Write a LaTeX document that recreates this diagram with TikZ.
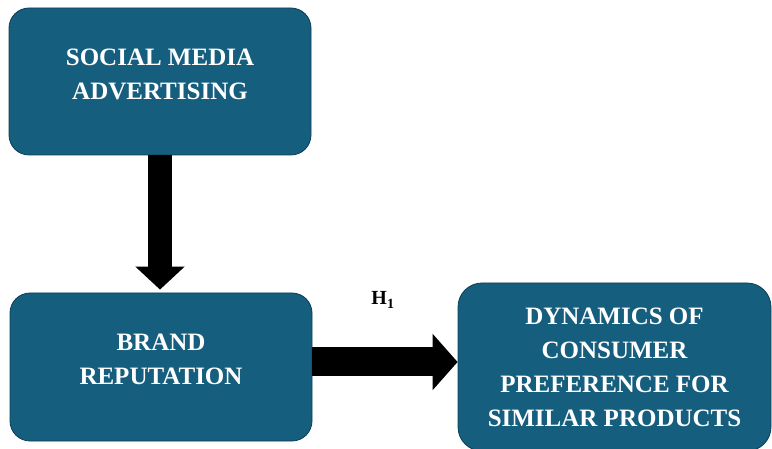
\documentclass[tikz,border=0pt]{standalone}
\usepackage{fontspec}
\setmainfont{Liberation Serif}
\usetikzlibrary{arrows.meta}
\definecolor{boxblue}{RGB}{22,94,126}
\definecolor{boxedge}{RGB}{12,62,86}
\tikzset{factor box/.style={
    draw=boxedge, fill=boxblue, line width=0.8pt,
    rounded corners=20pt,
    text=white, align=center, inner sep=0pt,
    font=\bfseries\fontsize{25}{34}\selectfont
  },
  down arrow/.style={line width=24pt, -{Triangle[width=48pt,length=23pt]}},
  right arrow/.style={line width=29pt, -{Triangle[width=55pt,length=25pt]}}
}

\begin{document}
\begin{tikzpicture}[x=1pt,y=-1pt]
  \useasboundingbox (0,0) rectangle (772,449);
  % factors
  \node[factor box, minimum width=302pt, minimum height=147pt, text depth=14pt] (media) at (160,81.5)
    {SOCIAL MEDIA\\ADVERTISING};
  \node[factor box, minimum width=302pt, minimum height=148pt, text depth=16pt] (brand) at (161,367)
    {BRAND\\REPUTATION};
  \node[factor box, minimum width=313pt, minimum height=168pt, rounded corners=24pt]
    (dynamics) at (614.5,367)
    {DYNAMICS OF\\CONSUMER\\PREFERENCE FOR\\SIMILAR PRODUCTS};
  % paths
  \draw[down arrow, shorten >=3pt] (media.south) -- (media.south |- brand.north);
  \draw[right arrow] ([yshift=5pt]brand.east) -- ([yshift=5pt]dynamics.west);
  \node[font=\bfseries\fontsize{20}{24}\selectfont] (hyp) at (383,300) {H\textsubscript{1}};
\end{tikzpicture}
\end{document}
